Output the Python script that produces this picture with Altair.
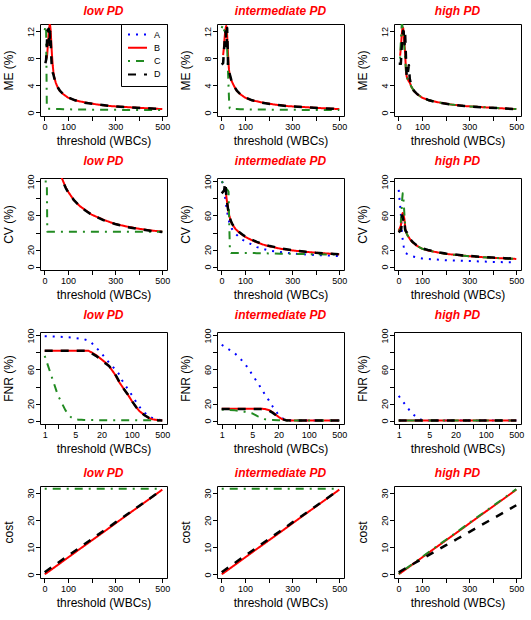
import altair as alt
import pandas as pd

# ---------------- series styling ----------------
SERIES = ["A", "B", "C", "D"]
COLORS = ["#0000FF", "#FF0000", "#228B22", "#000000"]
DASHES = [[2, 6], [1, 0], [2, 6, 8, 6], [8, 8]]
WIDTHS = {"A": 2, "B": 2, "C": 2, "D": 2.5}

COL_TITLES = ["low PD", "intermediate PD", "high PD"]

# ---------------- ME (%) ----------------
X_ME = [1, 4, 7, 10, 12, 14, 16, 18, 20, 22, 24, 26, 28, 30, 32, 35, 38, 41, 44, 48,
        55, 65, 80, 100, 130, 170, 220, 280, 350, 420, 500]
ME_LOW_B = [None, None, None, 8.0, 8.8, 9.8, 10.8, 11.8, 12.5, 13.0, 12.9, 12.2, 11.0, 9.6, 8.4, 7.0,
            6.0, 5.3, 4.9, 4.4, 3.8, 3.2, 2.7, 2.2, 1.8, 1.5, 1.2, 0.95, 0.8, 0.65, 0.5]
ME_LOW_C = [12.2, 12.8, 12.0, 0.6, 0.55, 0.55, 0.55, 0.55, 0.55, 0.55, 0.55, 0.55, 0.55, 0.55, 0.55, 0.55,
            0.55, 0.52, 0.52, 0.5, 0.5, 0.5, 0.48, 0.47, 0.45, 0.43, 0.42, 0.4, 0.38, 0.37, 0.35]
ME_LOW_D = [None, 7.3, 7.8, 10.0, 11.8, 12.3, 12.0, 12.4, 11.0, 9.8, 12.0, 11.5, 9.0, 7.4, 6.3, 5.9,
            5.6, 5.2, 4.8, 4.4, 3.8, 3.25, 2.7, 2.25, 1.8, 1.45, 1.2, 0.95, 0.78, 0.65, 0.5]
ME_INT_B = [None, None, 8.5, 9.5, 10.5, 11.3, 12.0, 12.5, 12.8, 12.6, 11.5, 10.0, 8.5, 7.2, 6.3, 5.5,
            5.1, 4.8, 4.6, 4.3, 3.8, 3.2, 2.7, 2.2, 1.8, 1.5, 1.2, 0.95, 0.8, 0.65, 0.5]
ME_INT_C = [12.5, 12.8, 12.3, 12.0, 12.2, 12.0, 12.1, 12.0, 12.0, 11.0, 9.5, 7.8, 5.8, 3.9, 2.0, 0.6,
            0.55, 0.55, 0.55, 0.52, 0.5, 0.5, 0.48, 0.47, 0.45, 0.43, 0.42, 0.4, 0.38, 0.37, 0.35]
ME_INT_D = [7.1, 7.2, 7.3, 8.8, 9.8, 10.8, 11.6, 12.0, 10.5, 9.8, 12.5, 10.0, 6.9, 6.5, 6.1, 5.7,
            5.3, 4.9, 4.6, 4.3, 3.8, 3.25, 2.7, 2.25, 1.8, 1.45, 1.2, 0.95, 0.78, 0.65, 0.5]
ME_HIGH_B = [None, None, 8.4, 9.5, 10.5, 11.5, 12.3, 12.6, 12.5, 11.8, 10.8, 9.8, 8.9, 7.5, 6.0, 5.3,
             5.0, 4.8, 4.6, 4.4, 3.8, 3.2, 2.7, 2.2, 1.8, 1.5, 1.2, 0.95, 0.8, 0.65, 0.5]
ME_HIGH_C = [None, None, 8.0, 10.5, 12.0, 13.05, 13.0, 12.5, 12.0, 11.0, 10.0, 9.2, 8.4, 7.2, 6.0, 5.3,
             5.0, 4.8, 4.6, 4.4, 3.8, 3.2, 2.7, 2.2, 1.8, 1.5, 1.2, 0.95, 0.8, 0.65, 0.5]
ME_HIGH_D = [7.2, 7.2, 7.2, 7.2, 8.5, 9.9, 11.0, 11.8, 12.1, 12.0, 10.5, 10.1, 11.9, 10.0, 7.9, 5.2,
             5.5, 6.2, 7.0, 5.0, 3.9, 3.25, 2.7, 2.25, 1.8, 1.45, 1.2, 0.95, 0.78, 0.65, 0.5]

# ---------------- CV (%) ----------------
X_CV = [1, 4, 7, 10, 12, 14, 16, 18, 20, 22, 25, 28, 30, 33, 36, 40, 45, 50, 60, 75, 90, 100,
        125, 150, 175, 200, 250, 300, 350, 400, 450, 500]
CV_LOW_B = [None] * 18 + [115, 103, 93, 88, 78, 71, 66, 61, 55, 50, 47, 44.5, 42.5, 41]
CV_LOW_C = [100, 100, 100, 100, 41, 41, 41, 41, 41, 41, 41, 41, 41, 41, 41, 41, 41, 41, 41, 41,
            41, 41, 41, 41, 41, 41, 41, 41, 41, 41, 41, 41]
CV_LOW_D = [None] * 18 + [114, 102, 92.5, 87.5, 78, 71, 65.5, 61, 54.5, 50, 46.5, 44, 42, 40.5]
CV_INT_A = [100, 99, 97, 92, 88, 84, 80, 76, 72, 68, 63, 58, 56, 52, 50, 47, 44, 42, 38.5, 34.5,
            31.5, 30, 26.5, 23, 21, 19, 17, 15.3, 14.5, 13.5, 13, 12.4]
CV_INT_B = [None, None, None, 88, 89, 90, 91, 89, 84, 79, 74, 68, 64, 60, 57, 53, 50, 48, 44, 40,
            37, 35, 31.5, 28.5, 26, 24, 21, 19, 17.5, 16.3, 15.3, 14.5]
CV_INT_C = [100, 99, 98, 97, 96, 95, 94, 93, 92, 91, 90, 89, 88, 50, 17, 16, 16, 16, 16, 16,
            16, 16, 16, 15.8, 15.6, 15.5, 15.2, 15, 14.8, 14.5, 14.2, 14]
CV_INT_D = [86, 87, 88, 89, 90, 96, 108, 93, 85, 79, 73, 67, 64, 60, 57, 53.5, 50.5, 48, 44, 40.5,
            37.5, 35.5, 32, 29, 26.5, 24.5, 21.5, 19.3, 17.6, 16.2, 15.2, 14.5]
CV_HIGH_A = [90, 80, 72, 62, 52, 42, 36, 32, 28, 24, 19, 17, 16, 15.5, 15, 14.5, 13.8, 13, 12, 11,
             10, 9.5, 9, 8.5, 8, 7.5, 7, 6.5, 6, 5.5, 5.2, 5]
CV_HIGH_B = [42, 44, 46, 48, 52, 57, 61, 63, 62, 60, 56, 48, 42, 40, 38, 36, 34, 31.5, 28.5, 25,
             22.5, 21, 19, 17.5, 16.2, 15, 13.5, 12.2, 11.2, 10.3, 9.6, 9]
CV_HIGH_C = [None, 42, 46, 52, 60, 70, 80, 86, 84, 76, 62, 50, 43, 40, 38, 36, 34, 31.5, 28.5, 25,
             22.5, 21, 19, 17.5, 16.2, 15, 13.5, 12.2, 11.2, 10.3, 9.6, 9]
CV_HIGH_D = [40, 41, 42, 42, 45, 52, 60, 58, 55, 57, 54, 44, 42, 41, 40, 37, 34.5, 32, 29, 25.5,
             23, 21.5, 19.5, 18, 16.5, 15.3, 13.8, 12.5, 11.5, 10.6, 9.9, 9.3]

# ---------------- FNR (%) ----------------
X_FNR = [1, 2, 3, 4, 5, 6, 7, 8, 10, 12, 15, 20, 25, 30, 40, 50, 60, 70, 80, 100, 125, 150,
         200, 250, 300, 400, 500]
FNR_LOW_A = [99, 98.5, 98, 97.5, 97, 96.5, 96, 95.5, 94, 91, 86, 79, 73, 68, 61, 55, 47, 42, 37, 30,
             22, 16, 9, 5, 3, 1, 0.3]
FNR_LOW_B = [82, 82, 82, 82, 82, 82, 82, 82, 82, 80, 77, 72, 68, 64, 55, 46, 40, 35, 31, 23,
             16, 11, 6, 3, 1.5, 0.5, 0.2]
FNR_LOW_C = [76, 30, 12, 4, 1.5, 1, 1, 0.8, 0.7, 0.6, 0.5, 0.5, 0.5, 0.5, 0.5, 0.5, 0.5, 0.5, 0.5, 0.5,
             0.5, 0.4, 0.4, 0.3, 0.3, 0.2, 0.2]
FNR_LOW_D = [82, 82, 82, 82, 82, 82, 82, 82, 82, 79, 76, 71, 67, 64, 56, 47, 40, 35, 31, 23,
             16, 11, 6, 3, 1.5, 0.5, 0.2]
FNR_INT_A = [89, 79, 70, 62, 54, 48, 43, 38, 30, 24, 16, 7, 2.5, 0.8, 0.2, 0, 0, 0, 0, 0,
             0, 0, 0, 0, 0, 0, 0]
FNR_INT_B = [14, 14, 14, 14, 14, 14, 14, 14, 13.5, 12.5, 9.5, 4.5, 1.5, 0.5, 0.2, 0, 0, 0, 0, 0,
             0, 0, 0, 0, 0, 0, 0]
FNR_INT_C = [13, 12, 11, 9.5, 8.5, 6.5, 4.5, 3.5, 1.5, 1, 0.8, 0.5, 0.3, 0.1, 0, 0, 0, 0, 0, 0,
             0, 0, 0, 0, 0, 0, 0]
FNR_INT_D = [13.5, 13.5, 13.5, 13.5, 13.5, 13.5, 13.5, 13.5, 13, 12, 9, 4, 1.5, 0.5, 0.2, 0, 0, 0, 0, 0,
             0, 0, 0, 0, 0, 0, 0]
FNR_HIGH_A = [29, 8.5, 1.5, 0.3, 0, 0, 0, 0, 0, 0, 0, 0, 0, 0, 0, 0, 0, 0, 0, 0,
              0, 0, 0, 0, 0, 0, 0]
FNR_HIGH_B = [0] * 27
FNR_HIGH_C = [0] * 27
FNR_HIGH_D = [0] * 27

# ---------------- cost ----------------
X_COST = [1, 50, 100, 150, 200, 250, 300, 350, 400, 450, 500]
COST_LOW_B = [0.06, 3.1, 6.25, 9.4, 12.5, 15.6, 18.75, 21.9, 25.0, 28.1, 31.25]
COST_LOW_C = [31.6, 31.6, 31.6, 31.6, 31.6, 31.6, 31.6, 31.6, 31.6, 31.6, 31.6]
COST_LOW_D = [0.85, 3.85, 6.9, 9.95, 13.0, 16.05, 19.1, 22.1, 25.15, 28.2, 31.25]
COST_INT_B = [0.06, 3.1, 6.25, 9.4, 12.5, 15.6, 18.75, 21.9, 25.0, 28.1, 31.25]
COST_INT_C = [31.6, 31.6, 31.6, 31.6, 31.6, 31.6, 31.6, 31.6, 31.6, 31.6, 31.6]
COST_INT_D = [0.85, 3.85, 6.9, 9.95, 13.0, 16.05, 19.1, 22.1, 25.15, 28.2, 31.25]
COST_HIGH_B = [0.06, 3.1, 6.25, 9.4, 12.5, 15.6, 18.75, 21.9, 25.0, 28.1, 31.25]
COST_HIGH_C = [0.25, 3.3, 6.45, 9.6, 12.7, 15.8, 18.95, 22.1, 25.2, 28.3, 31.45]
COST_HIGH_D = [0.8, 3.3, 5.75, 8.2, 10.7, 13.15, 15.6, 18.1, 20.55, 23.0, 25.5]

# ---------------- axis settings ----------------
LIN_TICKS = [0, 100, 200, 300, 400, 500]
LIN_LABELS = [0, 100, 300, 500]
LOG_TICKS = [1, 2, 5, 10, 20, 50, 100, 200, 500]
LOG_LABELS = [1, 5, 20, 100, 500]

ROWS = [
    dict(ytitle="ME (%)", ydom=[-0.52, 13.1], yticks=[0, 4, 8, 12], ylabels=[0, 4, 8, 12],
         x=X_ME, log=False,
         data=[{"B": ME_LOW_B, "C": ME_LOW_C, "D": ME_LOW_D},
               {"B": ME_INT_B, "C": ME_INT_C, "D": ME_INT_D},
               {"B": ME_HIGH_B, "C": ME_HIGH_C, "D": ME_HIGH_D}]),
    dict(ytitle="CV (%)", ydom=[-4, 104], yticks=[0, 20, 40, 60, 80, 100], ylabels=[0, 20, 60, 100],
         x=X_CV, log=False,
         data=[{"B": CV_LOW_B, "C": CV_LOW_C, "D": CV_LOW_D},
               {"A": CV_INT_A, "B": CV_INT_B, "C": CV_INT_C, "D": CV_INT_D},
               {"A": CV_HIGH_A, "B": CV_HIGH_B, "C": CV_HIGH_C, "D": CV_HIGH_D}]),
    dict(ytitle="FNR (%)", ydom=[-4, 104], yticks=[0, 20, 40, 60, 80, 100], ylabels=[0, 20, 60, 100],
         x=X_FNR, log=True,
         data=[{"A": FNR_LOW_A, "B": FNR_LOW_B, "C": FNR_LOW_C, "D": FNR_LOW_D},
               {"A": FNR_INT_A, "B": FNR_INT_B, "C": FNR_INT_C, "D": FNR_INT_D},
               {"A": FNR_HIGH_A, "B": FNR_HIGH_B, "C": FNR_HIGH_C, "D": FNR_HIGH_D}]),
    dict(ytitle="cost", ydom=[-1.3, 32.6], yticks=[0, 10, 20, 30], ylabels=[0, 10, 20, 30],
         x=X_COST, log=False,
         data=[{"B": COST_LOW_B, "C": COST_LOW_C, "D": COST_LOW_D},
               {"B": COST_INT_B, "C": COST_INT_C, "D": COST_INT_D},
               {"B": COST_HIGH_B, "C": COST_HIGH_C, "D": COST_HIGH_D}]),
]

W, H = 127, 92
FONT = "Liberation Sans"

color_scale = alt.Scale(domain=SERIES, range=COLORS)
dash_scale = alt.Scale(domain=SERIES, range=DASHES)
legend = alt.Legend(title=None, orient="none", legendX=81, legendY=0)


def label_expr(values):
    return "indexof(" + str(list(values)) + ", datum.value) >= 0 ? datum.label : ''"


def panel(row, col):
    if row["log"]:
        xscale = alt.Scale(type="log", domain=[0.78, 641], nice=False, zero=False)
        xaxis = alt.Axis(title="threshold (WBCs)", values=LOG_TICKS, labelExpr=label_expr(LOG_LABELS))
    else:
        xscale = alt.Scale(domain=[-19, 520], nice=False, zero=False)
        xaxis = alt.Axis(title="threshold (WBCs)", values=LIN_TICKS, labelExpr=label_expr(LIN_LABELS))
    yscale = alt.Scale(domain=row["ydom"], nice=False, zero=False)
    yaxis = alt.Axis(title=row["ytitle"], values=row["yticks"], labelExpr=label_expr(row["ylabels"]))
    layers = []
    for s in SERIES:
        ys = row["data"][col].get(s)
        if ys is None:
            continue
        recs = [{"x": xv, "y": yv, "s": s} for xv, yv in zip(row["x"], ys) if yv is not None]
        df = pd.DataFrame(recs)
        layers.append(
            alt.Chart(df).mark_line(clip=True, strokeWidth=WIDTHS[s], strokeJoin="round", strokeCap="butt").encode(
                x=alt.X("x:Q", scale=xscale, axis=xaxis),
                y=alt.Y("y:Q", scale=yscale, axis=yaxis),
                color=alt.Color("s:N", scale=color_scale, legend=legend),
                strokeDash=alt.StrokeDash("s:N", scale=dash_scale, legend=legend),
            )
        )
    return alt.layer(*layers).properties(
        width=W, height=H,
        title=alt.TitleParams(COL_TITLES[col], color="#FF0000", fontStyle="italic", fontWeight="bold",
                              fontSize=12, font=FONT, offset=6, anchor="middle"),
    )


panels = [panel(r, c) for r in ROWS for c in range(3)]
chart = alt.concat(*panels, columns=3, spacing={"row": 62, "column": 50}, bounds="flush").configure(
    padding={"left": 1, "top": 4, "right": 4, "bottom": 4}, background="white", font=FONT
).configure_view(
    stroke="black", strokeWidth=1
).configure_axis(
    domain=False, grid=False, tickColor="black", tickSize=4.5, tickWidth=1,
    labelColor="black", labelFontSize=9, labelFont=FONT, titleFont=FONT, titleFontSize=12,
    titleFontWeight="normal", titleColor="black", labelOverlap=False, labelFlush=False
).configure_axisX(
    labelPadding=1.5, titlePadding=4.5
).configure_axisY(
    labelAngle=270, labelAlign="center", labelBaseline="alphabetic", labelPadding=2, titlePadding=11
).configure_legend(
    strokeColor="black", fillColor="white", padding=6, labelFontSize=9, labelFont=FONT,
    labelColor="black", symbolStrokeWidth=2, symbolSize=361, symbolType="stroke",
    rowPadding=3.3, clipHeight=9, labelOffset=6, cornerRadius=0
)

chart.save("out.html", embed_options={"renderer": "svg", "actions": False})
